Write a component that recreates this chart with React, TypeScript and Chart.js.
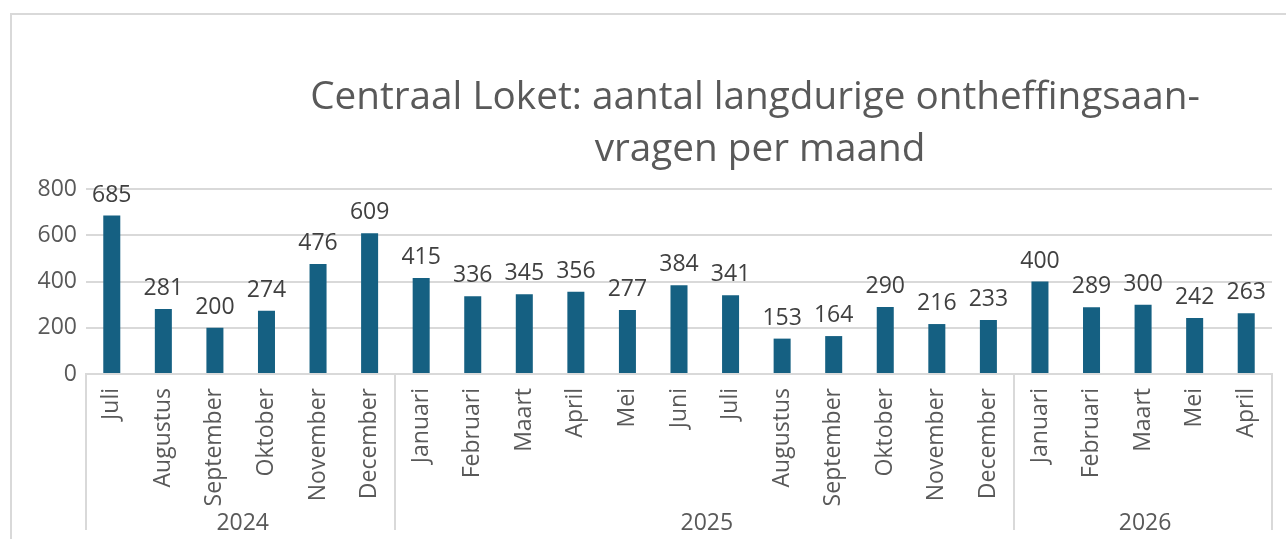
import React, { useEffect, useRef } from "react";
import { Chart, registerables } from "chart.js";

Chart.register(...registerables);

const months = [
  "Juli", "Augustus", "September", "Oktober", "November", "December",
  "Januari", "Februari", "Maart", "April", "Mei", "Juni", "Juli", "Augustus",
  "September", "Oktober", "November", "December",
  "Januari", "Februari", "Maart", "Mei", "April",
];
const values = [
  685, 281, 200, 274, 476, 609,
  415, 336, 345, 356, 277, 384, 341, 153, 164, 290, 216, 233,
  400, 289, 300, 242, 263,
];
const years = ["2024", "2025", "2026"];
const yearCounts = [6, 12, 5];
const titleLines = ["Centraal Loket: aantal langdurige ontheffingsaan-", "vragen per maand"];

const FONT = "'Open Sans', 'Noto Sans', sans-serif";

export default function App() {
  const ref = useRef<HTMLCanvasElement | null>(null);

  useEffect(() => {
    const canvas = ref.current;
    if (!canvas) return;

    const extras = {
      id: "extras",
      afterDatasetsDraw(chart: any) {
        const ctx = chart.ctx;
        const meta = chart.getDatasetMeta(0);
        ctx.save();
        ctx.font = `23px ${FONT}`;
        ctx.fillStyle = "#404040";
        ctx.textAlign = "center";
        ctx.textBaseline = "alphabetic";
        meta.data.forEach((bar: any, i: number) => {
          ctx.fillText(String(values[i]), bar.x, bar.y - 14);
        });
        ctx.restore();
      },
      afterDraw(chart: any) {
        const ctx = chart.ctx;
        const xs = chart.scales.x;
        const area = chart.chartArea;
        const n = months.length;
        const boundary = (s: number) =>
          s === 0 ? area.left : s === n ? area.right : (xs.getPixelForValue(s - 1) + xs.getPixelForValue(s)) / 2;
        ctx.save();
        ctx.strokeStyle = "#d9d9d9";
        ctx.lineWidth = 2;
        let start = 0;
        const bounds: number[] = [0];
        yearCounts.forEach((c) => {
          start += c;
          bounds.push(start);
        });
        bounds.forEach((s) => {
          const px = Math.round(boundary(s));
          ctx.beginPath();
          ctx.moveTo(px, area.bottom);
          ctx.lineTo(px, 530);
          ctx.stroke();
        });
        ctx.font = `23px ${FONT}`;
        ctx.fillStyle = "#595959";
        ctx.textAlign = "center";
        ctx.textBaseline = "middle";
        years.forEach((y, i) => {
          const a = boundary(bounds[i]);
          const b = boundary(bounds[i + 1]);
          ctx.fillText(y, (a + b) / 2 + 2, 523);
        });
        // title
        ctx.font = `38.7px ${FONT}`;
        ctx.fillStyle = "#595959";
        ctx.textBaseline = "alphabetic";
        ctx.fillText(titleLines[0], 755, 109);
        ctx.fillText(titleLines[1], 760, 161);
        ctx.restore();
      },
    };

    const chart = new Chart(canvas, {
      type: "bar",
      data: {
        labels: months,
        datasets: [
          {
            data: values,
            backgroundColor: "#156082",
            barPercentage: 1,
            categoryPercentage: 0.33,
          },
        ],
      },
      options: {
        animation: false,
        responsive: true,
        maintainAspectRatio: false,
        layout: { padding: { top: 189, right: 14, left: 0, bottom: 0 } },
        plugins: {
          legend: { display: false },
          tooltip: { enabled: false },
          title: { display: false },
        },
        scales: {
          x: {
            grid: { display: false },
            border: { display: true, color: "#d9d9d9", width: 2 },
            ticks: {
              autoSkip: false,
              maxRotation: 90,
              minRotation: 90,
              padding: 6,
              color: "#595959",
              font: { family: FONT, size: 23 },
            },
            afterFit: (scale: any) => {
              scale.height = 165;
            },
          },
          y: {
            min: 0,
            max: 800,
            border: { display: false },
            grid: { color: "#d9d9d9", lineWidth: 2, drawTicks: false },
            ticks: {
              stepSize: 100,
              padding: 9,
              color: "#595959",
              font: { family: FONT, size: 23 },
              callback: (v: any) => (Number(v) % 200 === 0 ? String(v) : ""),
            },
            afterFit: (scale: any) => {
              scale.width = 86;
            },
          },
        },
      },
      plugins: [extras],
    });

    return () => chart.destroy();
  }, []);

  return (
    <div style={{ position: "fixed", left: 0, top: 0, width: 1286, height: 539, background: "#fff" }}>
      <div
        style={{
          position: "absolute",
          left: 10,
          top: 13,
          width: 1300,
          height: 600,
          borderLeft: "2px solid #d9d9d9",
          borderTop: "2px solid #d9d9d9",
        }}
      />
      <div style={{ position: "absolute", left: 0, top: 0, width: 1286, height: 539 }}>
        <canvas ref={ref} />
      </div>
    </div>
  );
}
